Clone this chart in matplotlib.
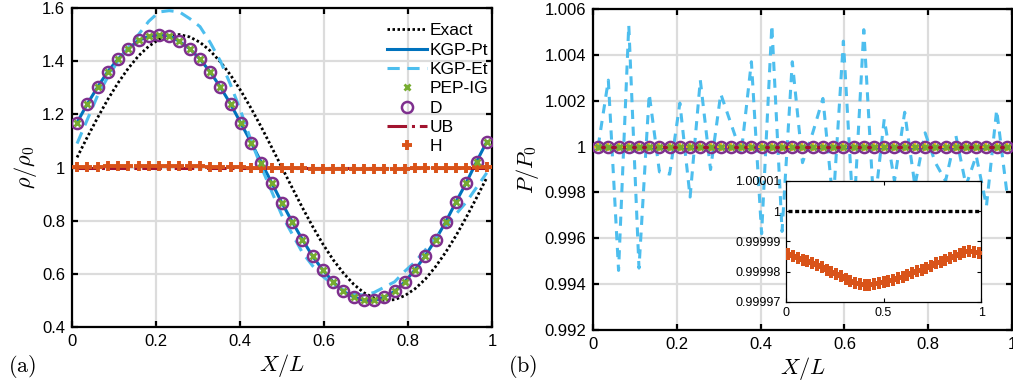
import numpy as np
import matplotlib
matplotlib.use("Agg")
from matplotlib import pyplot as plt
from matplotlib.ticker import FormatStrFormatter

# grid: 41 cell centres
x = (np.arange(41) + 0.5) / 41

# density (panel a)
rho_exact = [1.038, 1.114, 1.187, 1.256, 1.318, 1.373, 1.420, 1.456, 1.482, 1.497,
             1.500, 1.491, 1.471, 1.439, 1.397, 1.347, 1.288, 1.222, 1.151, 1.076,
             1.000, 0.924, 0.849, 0.778, 0.712, 0.653, 0.603, 0.561, 0.529, 0.509,
             0.500, 0.503, 0.518, 0.544, 0.580, 0.627, 0.682, 0.744, 0.813, 0.886, 0.962]
rho_D = [1.169, 1.239, 1.302, 1.361, 1.408, 1.447, 1.478, 1.493, 1.499, 1.496,
         1.474, 1.447, 1.408, 1.359, 1.302, 1.238, 1.166, 1.094, 1.018, 0.943,
         0.867, 0.796, 0.729, 0.666, 0.614, 0.570, 0.534, 0.513, 0.500, 0.500,
         0.513, 0.534, 0.570, 0.616, 0.668, 0.729, 0.796, 0.871, 0.943, 1.022, 1.097]
rho_KGP_Et = [1.09, 1.18, 1.27, 1.34, 1.40, 1.45, 1.50, 1.55, 1.585, 1.59,
              1.585, 1.56, 1.53, 1.47, 1.40, 1.31, 1.21, 1.10, 1.00, 0.91,
              0.82, 0.75, 0.68, 0.63, 0.59, 0.56, 0.54, 0.525, 0.52, 0.53,
              0.55, 0.57, 0.61, 0.645, 0.69, 0.735, 0.78, 0.825, 0.87, 0.925, 0.98]
rho_H = [1.002, 1.003, 1.003, 1.004, 1.004, 1.005, 1.005, 1.005, 1.005, 1.005,
         1.005, 1.004, 1.004, 1.003, 1.003, 1.002, 1.001, 1.000, 1.000, 0.999,
         0.998, 0.997, 0.997, 0.996, 0.996, 0.995, 0.995, 0.995, 0.995, 0.995,
         0.995, 0.996, 0.996, 0.997, 0.997, 0.998, 0.999, 0.999, 1.000, 1.001, 1.002]
rho_UB = [1.0] * 41

# pressure (panel b)
p_KGP_Et = [1.0000, 1.0029, 0.9946, 1.0053, 0.9947, 1.0023, 0.9989, 0.9988, 1.0019, 0.9978,
            1.0029, 0.9990, 1.0023, 1.0010, 0.9997, 1.0037, 0.9962, 1.0053, 0.9963, 1.0037,
            0.9993, 1.0006, 1.0021, 0.9975, 1.0046, 0.9968, 1.0051, 0.9972, 1.0012, 0.9985,
            1.0015, 0.9983, 1.0006, 0.9993, 0.9985, 1.0005, 0.9983, 0.9996, 0.9974, 1.0016, 0.9980]
p_const = [1.0] * 41
p_H = [0.9999858, 0.9999852, 0.9999846, 0.9999840, 0.9999834, 0.9999828, 0.9999821,
       0.9999814, 0.9999807, 0.9999799, 0.9999791, 0.9999784, 0.9999777, 0.9999770,
       0.9999764, 0.9999759, 0.9999757, 0.9999757, 0.9999759, 0.9999762, 0.9999765,
       0.9999769, 0.9999773, 0.9999778, 0.9999783, 0.9999789, 0.9999795, 0.9999801,
       0.9999807, 0.9999813, 0.9999820, 0.9999827, 0.9999833, 0.9999840, 0.9999846,
       0.9999853, 0.9999860, 0.9999866, 0.9999869, 0.9999866, 0.9999862]

c_pt = "#0072BD"
c_et = "#4DBEEE"
c_ig = "#77AC30"
c_d = "#7E2F8E"
c_ub = "#A2142F"
c_h = "#D95319"

plt.rcParams['font.family'] = ['Liberation Sans', 'DejaVu Sans']
plt.rcParams['mathtext.fontset'] = 'cm'

fig = plt.figure(figsize=(10.13, 3.9), dpi=100)
ax1 = fig.add_axes([0.071, 0.1615, 0.4146, 0.818])
ax2 = fig.add_axes([0.5854, 0.1538, 0.4136, 0.823])


def style(ax):
    ax.grid(True, color="#dcdcdc", lw=1.6)
    ax.set_axisbelow(True)
    for s in ax.spines.values():
        s.set_linewidth(1.6)
    ax.tick_params(direction="in", length=4, width=1.6, top=True, right=True,
                   labelsize=12, pad=5)
    ax.xaxis.set_major_formatter(FormatStrFormatter('%g'))
    ax.yaxis.set_major_formatter(FormatStrFormatter('%g'))


# panel (a)
ax1.plot(x, rho_exact, ':', color='black', lw=2.0, dashes=(0.9, 0.9), label='Exact', zorder=3)
ax1.plot(x, rho_D, '-', color=c_pt, lw=2.2, label='KGP-Pt', zorder=3)
ax1.plot(x, rho_KGP_Et, '--', color=c_et, lw=2.2, dashes=(4, 2.5), label='KGP-Et', zorder=3)
ax1.plot(x, rho_D, 'x', color=c_ig, ms=4, mew=2, label='PEP-IG', zorder=5)
ax1.plot(x, rho_D, 'o', color=c_d, ms=8, mew=1.8, mfc='none', label='D', zorder=4)
ax1.plot(x, rho_UB, '-.', color=c_ub, lw=2.2, label='UB', zorder=3)
ax1.plot(x, rho_H, '+', color=c_h, ms=6.5, mew=2.8, label='H', zorder=4)
ax1.set_xlim(0, 1)
ax1.set_ylim(0.4, 1.6)
ax1.set_xticks(np.arange(0, 1.01, 0.2))
ax1.set_yticks(np.arange(0.4, 1.61, 0.2))
style(ax1)
ax1.set_xlabel(r'$X/L$', fontsize=16, labelpad=2)
ax1.set_ylabel(r'$\rho/\rho_0$', fontsize=16, labelpad=2)
ax1.legend(loc='upper right', bbox_to_anchor=(1.015, 0.985), frameon=False,
           fontsize=12.5, handlelength=2.3, handletextpad=0.15, labelspacing=0.24,
           borderaxespad=0.2)

# panel (b)
ax2.plot(x, p_KGP_Et, '--', color=c_et, lw=2.2, dashes=(3, 2.5), zorder=3)
ax2.plot(x, p_const, '-', color=c_pt, lw=2.2, zorder=3)
ax2.plot(x, p_const, 'x', color=c_ig, ms=4, mew=2, zorder=5)
ax2.plot(x, p_const, 'o', color=c_d, ms=8, mew=1.8, mfc='none', zorder=4)
ax2.plot(x, p_H, '+', color='#E6B422', ms=6, mew=1.5, zorder=4)
ax2.plot(x, p_const, '-.', color=c_ub, lw=2.2, zorder=4)
ax2.set_xlim(0, 1)
ax2.set_ylim(0.992, 1.006)
ax2.set_xticks(np.arange(0, 1.01, 0.2))
ax2.set_yticks([0.992, 0.994, 0.996, 0.998, 1.0, 1.002, 1.004, 1.006])
style(ax2)
ax2.set_xlabel(r'$X/L$', fontsize=16, labelpad=2)
ax2.set_ylabel(r'$P/P_0$', fontsize=16, labelpad=2)

# inset
axi = fig.add_axes([0.776, 0.226, 0.1925, 0.310])
axi.plot(x, p_const, ':', color='black', lw=2.4, dashes=(1.2, 0.8), zorder=3)
axi.plot(x, p_H, 'P', color=c_h, ms=8, mew=0, zorder=4)
axi.set_xlim(0, 1)
axi.set_ylim(0.99997, 1.00001)
axi.set_xticks([0, 0.5, 1])
axi.set_yticks([0.99997, 0.99998, 0.99999, 1.0, 1.00001])
axi.xaxis.set_major_formatter(FormatStrFormatter('%g'))
axi.yaxis.set_major_formatter(FormatStrFormatter('%.6g'))
axi.tick_params(direction="in", length=3, width=0.8, top=True, right=True,
                labelsize=9, pad=4)
for s in axi.spines.values():
    s.set_linewidth(0.9)

fig.text(0.008, 0.059, r'$\mathrm{(a)}$', fontsize=16, va='center')
fig.text(0.5015, 0.059, r'$\mathrm{(b)}$', fontsize=16, va='center')

fig.savefig("out.png", dpi=100)
